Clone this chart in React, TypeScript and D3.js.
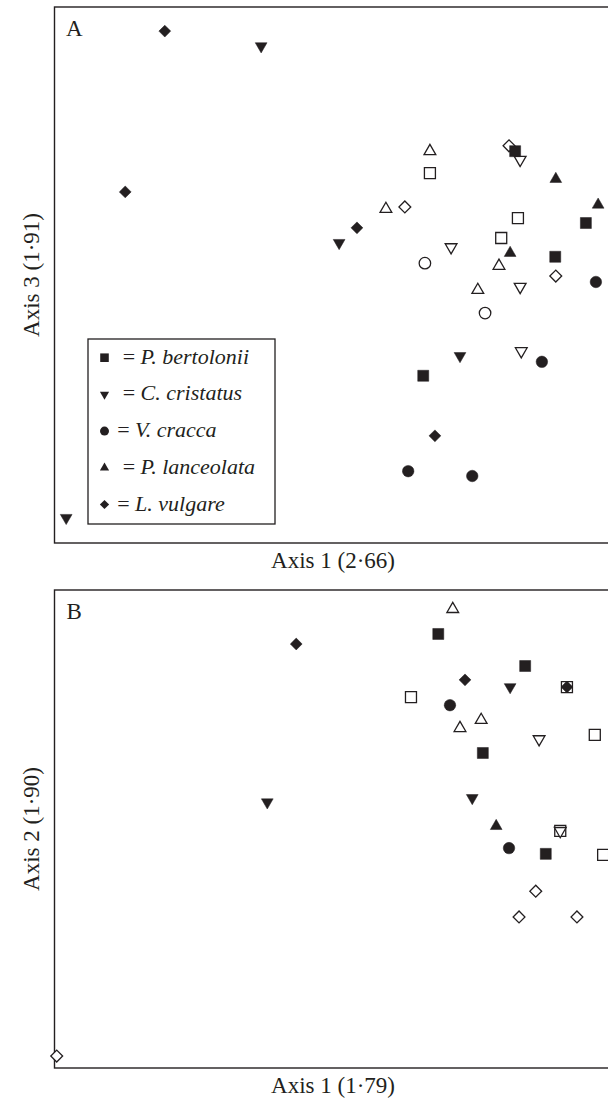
import React from 'react';
import * as d3 from 'd3';

// species codes -> legend names
const speciesCodes = ['Pb', 'Cc', 'Vc', 'Pl', 'Lv'];
const speciesNames = ['P. bertolonii', 'C. cristatus', 'V. cracca', 'P. lanceolata', 'L. vulgare'];

// Panel A (Axis 1 vs Axis 3), scores rescaled 0-100
const panelAFilled: [string, number, number][] = [
  ['Lv', 19.8, 95.5], ['Cc', 37.1, 92.7], ['Lv', 12.7, 65.5], ['Cc', 51.1, 56.0],
  ['Pb', 82.7, 73.1], ['Pl', 90.0, 67.9], ['Lv', 54.3, 58.8], ['Pl', 81.8, 54.1],
  ['Pl', 97.6, 63.1], ['Pb', 95.4, 59.7], ['Pb', 89.9, 53.4], ['Vc', 97.2, 48.7],
  ['Cc', 72.8, 34.9], ['Vc', 87.5, 33.8], ['Pb', 66.2, 31.2], ['Lv', 68.3, 20.0],
  ['Vc', 63.5, 13.4], ['Vc', 75.0, 12.5], ['Cc', 2.1, 4.7],
];
const panelAOpen: [string, number, number][] = [
  ['Pl', 67.4, 73.1], ['Pb', 67.4, 69.0], ['Lv', 81.6, 74.1], ['Cc', 83.6, 71.5],
  ['Pl', 59.5, 62.3], ['Lv', 62.9, 62.7], ['Cc', 71.2, 55.2], ['Vc', 66.5, 52.2],
  ['Pb', 83.2, 60.6], ['Pb', 80.2, 56.9], ['Pl', 79.8, 51.7], ['Lv', 90.0, 49.8],
  ['Cc', 83.6, 47.8], ['Pl', 76.0, 47.2], ['Vc', 77.3, 42.9], ['Cc', 83.8, 35.8],
];

// Panel B (Axis 1 vs Axis 2)
const panelBFilled: [string, number, number][] = [
  ['Pb', 68.9, 90.8], ['Lv', 43.4, 88.7], ['Pb', 84.5, 84.1], ['Lv', 73.7, 81.2],
  ['Cc', 81.8, 79.7], ['Vc', 71.0, 75.9], ['Pb', 76.9, 65.9],
  ['Cc', 38.2, 55.6], ['Cc', 75.0, 56.5], ['Pl', 79.3, 50.6], ['Vc', 81.6, 46.0],
  ['Pb', 88.2, 44.8],
];
const panelBOpen: [string, number, number][] = [
  ['Pl', 71.5, 96.0], ['Pb', 92.0, 79.7], ['Pb', 64.0, 77.6], ['Pl', 76.6, 72.8],
  ['Pl', 72.8, 71.1], ['Cc', 87.0, 68.8], ['Pb', 97.0, 69.7], ['Pb', 90.8, 49.6],
  ['Cc', 90.8, 49.6], ['Pb', 98.5, 44.6], ['Lv', 86.4, 37.0], ['Lv', 83.4, 31.6],
  ['Lv', 93.8, 31.6], ['Lv', 0.4, 2.5],
];
// drawn on top of the open square in panel B
const panelBOverlay: [string, number, number][] = [['Lv', 92.0, 79.7]];

const INK = '#231f20';
const FONT = '"Liberation Serif", "Times New Roman", serif';

const W = 608;
const H = 1102;
const left = 54.5;
const right = 611.5;

const x = d3.scaleLinear().domain([0, 100]).range([left, right]);
const yA = d3.scaleLinear().domain([0, 100]).range([543, 7]);
const yB = d3.scaleLinear().domain([0, 100]).range([1068, 590]);

// marker path + rotation for a species
const marker = (code: string, scale = 1) => {
  switch (code) {
    case 'Pb':
      return { d: d3.symbol().type(d3.symbolSquare).size(121 * scale * scale)(), rot: 0 };
    case 'Cc':
      return { d: d3.symbol().type(d3.symbolTriangle).size(60 * scale * scale)(), rot: 180 };
    case 'Vc':
      return { d: d3.symbol().type(d3.symbolCircle).size(104 * scale * scale)(), rot: 0 };
    case 'Pl':
      return { d: d3.symbol().type(d3.symbolTriangle).size(60 * scale * scale)(), rot: 0 };
    default:
      return { d: d3.symbol().type(d3.symbolSquare).size(70 * scale * scale)(), rot: 45 };
  }
};

const Points = ({ data, y, filled }: { data: [string, number, number][]; y: any; filled: boolean }) => (
  <g>
    {data.map(([code, vx, vy], i) => {
      const m = marker(code);
      return (
        <path
          key={i}
          d={m.d as string}
          transform={`translate(${x(vx)},${y(vy)}) rotate(${m.rot})`}
          fill={filled ? INK : 'white'}
          stroke={INK}
          strokeWidth={filled ? 0.5 : 1.3}
        />
      );
    })}
  </g>
);

const legendX = 88;
const legendY = 339;
const legendRow = 36.7;

const App = () => {
  const eqOffsets = [0, 0, -5.5, 0, -5.5];
  return (
    <svg width={W} height={H} style={{ position: 'absolute', left: 0, top: 0, background: 'white' }}
      fontFamily={FONT} fill={INK}>
      {/* Panel A */}
      <rect x={left} y={7} width={right - left} height={536} fill="none" stroke={INK} strokeWidth={1.4} />
      <text x={66} y={36} fontSize={23}>A</text>
      <Points data={panelAOpen} y={yA} filled={false} />
      <Points data={panelAFilled} y={yA} filled={true} />

      <rect x={legendX} y={legendY} width={187} height={185} fill="white" stroke={INK} strokeWidth={1.3} />
      {speciesCodes.map((code, i) => {
        const m = marker(code, 0.78);
        const cy = legendY + 18.7 + i * legendRow;
        return (
          <g key={code}>
            <path d={m.d as string} transform={`translate(104.5,${cy}) rotate(${m.rot})`} fill={INK} />
            <text x={122.7 + eqOffsets[i]} y={cy + 6} fontSize={22}>
              = <tspan fontStyle="italic">{speciesNames[i]}</tspan>
            </text>
          </g>
        );
      })}

      <text x={(left + right) / 2} y={568} fontSize={23} textAnchor="middle">Axis 1 (2·66)</text>
      <text transform={`translate(39,275) rotate(-90)`} fontSize={23} textAnchor="middle">Axis 3 (1·91)</text>

      {/* Panel B */}
      <rect x={left} y={590} width={right - left} height={478} fill="none" stroke={INK} strokeWidth={1.4} />
      <text x={66.5} y={619} fontSize={23}>B</text>
      <Points data={panelBOpen} y={yB} filled={false} />
      <Points data={panelBFilled} y={yB} filled={true} />
      <Points data={panelBOverlay} y={yB} filled={true} />

      <text x={(left + right) / 2} y={1093} fontSize={23} textAnchor="middle">Axis 1 (1·79)</text>
      <text transform={`translate(39,829) rotate(-90)`} fontSize={23} textAnchor="middle">Axis 2 (1·90)</text>
    </svg>
  );
};

export default App;
